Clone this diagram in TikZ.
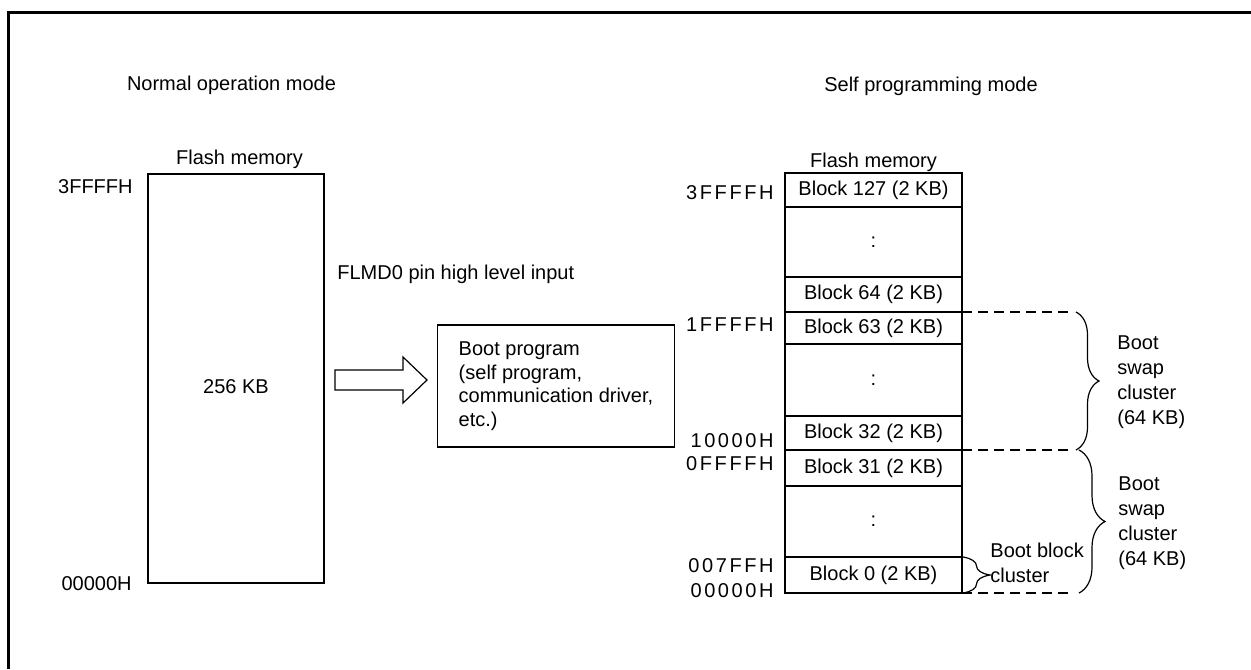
\documentclass[tikz,border=0pt]{standalone}
\usepackage{fontspec}
\setmainfont{Liberation Sans}
\newfontfamily\addrfont[LetterSpace=13]{Liberation Sans}
\usepackage{tikz}
\usetikzlibrary{positioning,decorations.pathreplacing}

\begin{document}
\begin{tikzpicture}[x=0.5pt, y=-0.5pt,
  font=\fontsize{10}{12.5}\selectfont,
  txt/.style={inner sep=0pt},
  mem/.style={draw, line width=0.6pt, inner sep=0pt, outer sep=0pt,
              minimum width=88.5pt},
  addr/.style={inner sep=0pt, anchor=base east,
               font=\fontsize{10}{12}\addrfont},
  cut/.style={line width=0.6pt, dash pattern=on 5pt off 3pt},
  brc/.style={line width=0.6pt, decorate,
              decoration={brace, amplitude=#1}}]
  \useasboundingbox (0,0) rectangle (1251,669);
  \draw[line width=1.5pt] (8.5,669) -- (8.5,12.5) -- (1251,12.5);

  \node[txt, anchor=base] (normal) at (231.5,90.5) {Normal operation mode};
  \node[txt, anchor=base] (selfprog) at (931,91.5) {Self programming mode};

  \node[mem, minimum width=88pt, minimum height=204.5pt] (mainflash)
    at (236,378.5) {};
  \node[txt, anchor=base] (maintitle) at (239.5,164) {Flash memory};
  \node[txt, anchor=base] (mainsize) at (236,393) {256 KB};
  \node[txt, anchor=base east] (maintop) at (133,193) {3FFFFH};
  \node[txt, anchor=base east] (mainbot) at (132,590) {00000H};

  \node[txt, anchor=base west] (flmd) at (337,279) {FLMD0 pin high level input};
  \draw[line width=0.6pt] (335,370) -- (403,370) -- (403,357) -- (427,380)
    -- (403,403) -- (403,390) -- (335,390) -- cycle;
  \node[draw, line width=0.6pt, align=left, inner xsep=10.5pt,
        minimum height=61pt, font=\fontsize{10}{11.75}\selectfont] (bootprog)
    at (556,386) {Boot program\\(self program,\\communication driver,\\etc.)};

  \node[txt, anchor=base] (flashtitle) at (873.5,167) {Flash memory};
  \node[mem, minimum height=17pt, anchor=north west] (b127) at (785,173)
    {Block 127 (2 KB)};
  \node[mem, minimum height=35pt, below=0pt of b127] (gapA) {:};
  \node[mem, minimum height=17.5pt, below=0pt of gapA] (b64) {Block 64 (2 KB)};
  \node[mem, minimum height=16pt, below=0pt of b64] (b63) {Block 63 (2 KB)};
  \node[mem, minimum height=36pt, below=0pt of b63] (gapB) {:};
  \node[mem, minimum height=17pt, below=0pt of gapB] (b32) {Block 32 (2 KB)};
  \node[mem, minimum height=18pt, below=0pt of b32] (b31) {Block 31 (2 KB)};
  \node[mem, minimum height=35.5pt, below=0pt of b31] (gapC) {:};
  \node[mem, minimum height=18pt, below=0pt of gapC] (b0) {Block 0 (2 KB)};

  \node[addr] (a3ffff) at (774,199) {3FFFFH};
  \node[addr] (a1ffff) at (774,331) {1FFFFH};
  \node[addr] (a10000) at (774,447) {10000H};
  \node[addr] (a0ffff) at (774,470) {0FFFFH};
  \node[addr] (a007ff) at (774,572) {007FFH};
  \node[addr] (a00000) at (774,597) {00000H};

  \coordinate (edge) at (1073,0);
  \draw[cut] (b63.north east) -- (b63.north east -| edge);
  \draw[cut] (b31.north east) -- (b31.north east -| edge);
  \draw[cut] (b0.south east) -- (b0.south east -| edge);
  \draw[brc=11.5pt] ([xshift=57pt]b63.north east) -- ([xshift=57pt]b32.south east);
  \draw[brc=13pt] ([xshift=58.5pt]b31.north east) -- ([xshift=58.5pt]b0.south east);
  \draw[brc=13.5pt] ([xshift=0.5pt]b0.north east) -- ([xshift=0.5pt]b0.south east);

  \node[txt, anchor=north west, align=left] (swaphi) at (1117,335)
    {Boot\\swap\\cluster\\(64 KB)};
  \node[txt, anchor=north west, align=left] (swaplo) at (1118,476)
    {Boot\\swap\\cluster\\(64 KB)};
  \node[txt, anchor=north west, align=left] (bootblk) at (990,543)
    {Boot block\\cluster};
\end{tikzpicture}
\end{document}
